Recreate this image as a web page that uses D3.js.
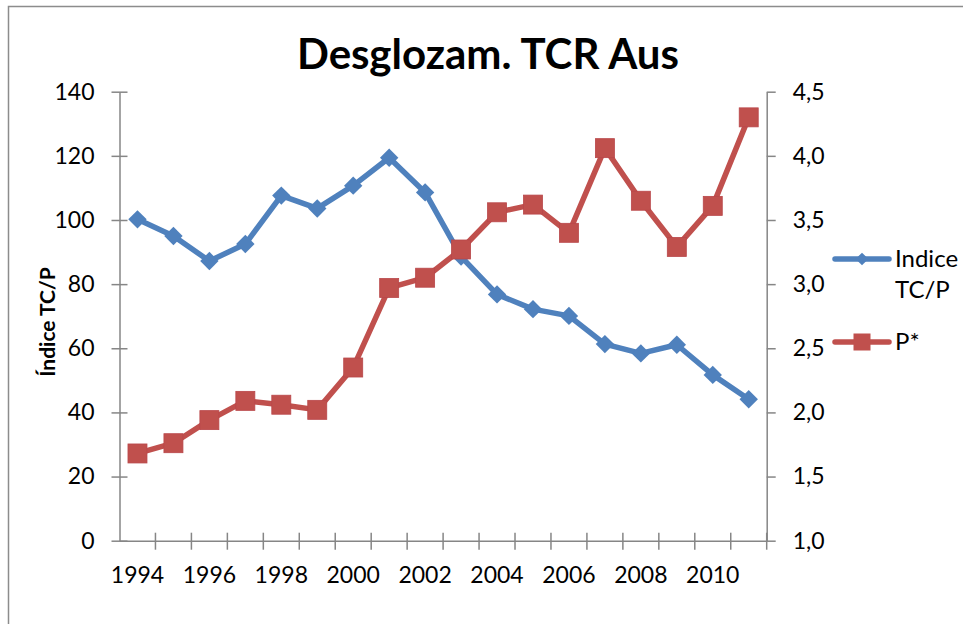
<!DOCTYPE html>
<html>
<head>
<meta charset="utf-8">
<script src="https://cdn.jsdelivr.net/npm/d3@7"></script>
<style>
  body { margin: 0; background: #fff; }
  text { font-family: Lato, "Open Sans", sans-serif; fill: #000; }
</style>
</head>
<body>
<svg id="chart" width="963" height="624"></svg>
<script>
// Data
const years = ["1994", "1995", "1996", "1997", "1998", "1999", "2000", "2001", "2002",
  "2003", "2004", "2005", "2006", "2007", "2008", "2009", "2010", "2011"];
const indice = [100.2, 95.0, 87.2, 92.5, 107.6, 103.6, 110.7, 119.4, 108.6,
  88.6, 76.8, 72.2, 70.1, 61.3, 58.4, 61.1, 51.7, 44.1];
const pStar = [1.68, 1.76, 1.94, 2.09, 2.06, 2.02, 2.35, 2.97, 3.05,
  3.27, 3.56, 3.62, 3.40, 4.06, 3.65, 3.29, 3.61, 4.30];
const leftTicks = [0, 20, 40, 60, 80, 100, 120, 140];
const rightTicks = [1.0, 1.5, 2.0, 2.5, 3.0, 3.5, 4.0, 4.5];
const xLabels = ["1994", "1996", "1998", "2000", "2002", "2004", "2006", "2008", "2010"];

const BLUE = "#4F81BD";
const RED = "#C0504D";
const GRAY = "#868686";

const svg = d3.select("#chart");

// Outer chart border
svg.append("rect")
  .attr("x", 8.5).attr("y", 6.5)
  .attr("width", 970).attr("height", 640)
  .attr("fill", "none").attr("stroke", "#8c8c8c").attr("stroke-width", 1.5);

// Plot area
const plotL = 119.5, plotR = 766.7, plotT = 91.7, plotB = 540.7;

// SCALES
const xScale = d3.scaleBand().domain(years).range([plotL, plotR]).padding(0);
const yLeft = d3.scaleLinear().domain([0, 140]).range([plotB, plotT]);
const yRight = d3.scaleLinear().domain([1, 4.5]).range([plotB, plotT]);
const xMid = (d) => xScale(d) + xScale.bandwidth() / 2;

const comma = (v) => d3.format(".1f")(v).replace(".", ",");

// Left axis
const gLeft = svg.append("g")
  .attr("transform", `translate(${plotL},0)`)
  .call(d3.axisLeft(yLeft).tickValues(leftTicks).tickSize(8).tickPadding(17).tickSizeOuter(0));
gLeft.selectAll(".tick line").attr("x1", 8).attr("x2", -8);

// Right axis
const gRight = svg.append("g")
  .attr("transform", `translate(${plotR},0)`)
  .call(d3.axisRight(yRight).tickValues(rightTicks).tickFormat(comma)
    .tickSize(9).tickPadding(17).tickSizeOuter(0));

// Bottom axis: labels at category centers, ticks between categories
const gBottom = svg.append("g")
  .attr("transform", `translate(0,${plotB})`)
  .call(d3.axisBottom(xScale).tickValues(xLabels).tickSize(0).tickPadding(0).tickSizeOuter(0));
gBottom.selectAll(".tick text").attr("y", 42).attr("dy", 0);

gBottom.selectAll(".cat-tick")
  .data(years.slice(1).concat(["end"]))
  .join("line")
  .attr("class", "cat-tick")
  .attr("x1", (d) => d === "end" ? plotR : xScale(d))
  .attr("x2", (d) => d === "end" ? plotR : xScale(d))
  .attr("y1", -8).attr("y2", 9);

[gLeft, gRight, gBottom].forEach((g) => {
  g.selectAll("path.domain").attr("stroke", GRAY).attr("stroke-width", 1.5);
  g.selectAll("line").attr("stroke", GRAY).attr("stroke-width", 1.5);
  g.selectAll("text").attr("font-size", 23).attr("font-family", "Lato, sans-serif").attr("fill", "#000");
});

// Titles
svg.append("text")
  .attr("x", 488).attr("y", 69)
  .attr("text-anchor", "middle")
  .attr("font-size", 42).attr("font-weight", "bold")
  .text("Desglozam. TCR Aus");

svg.append("text")
  .attr("transform", "translate(55,322) rotate(-90)")
  .attr("text-anchor", "middle")
  .attr("font-size", 21).attr("font-weight", "bold")
  .text("Índice TC/P");

// Lines
const lineL = d3.line().x((d, i) => xMid(years[i])).y((d) => yLeft(d));
const lineR = d3.line().x((d, i) => xMid(years[i])).y((d) => yRight(d));

svg.append("path")
  .datum(indice)
  .attr("d", lineL)
  .attr("fill", "none").attr("stroke", BLUE).attr("stroke-width", 5.5)
  .attr("stroke-linejoin", "round");

svg.selectAll(".mk-blue")
  .data(indice)
  .join("rect")
  .attr("class", "mk-blue")
  .attr("x", -6.5).attr("y", -6.5).attr("width", 13).attr("height", 13)
  .attr("transform", (d, i) => `translate(${xMid(years[i])},${yLeft(d)}) rotate(45)`)
  .attr("fill", BLUE);

svg.append("path")
  .datum(pStar)
  .attr("d", lineR)
  .attr("fill", "none").attr("stroke", RED).attr("stroke-width", 5.5)
  .attr("stroke-linejoin", "round");

svg.selectAll(".mk-red")
  .data(pStar)
  .join("rect")
  .attr("class", "mk-red")
  .attr("x", (d, i) => xMid(years[i]) - 9.5)
  .attr("y", (d) => yRight(d) - 9.5)
  .attr("width", 19).attr("height", 19)
  .attr("fill", RED).attr("stroke", "#b9474a").attr("stroke-width", 0.8);

// Legend
const legend = svg.append("g");
legend.append("line")
  .attr("x1", 835).attr("x2", 889).attr("y1", 259).attr("y2", 259)
  .attr("stroke", BLUE).attr("stroke-width", 5.5).attr("stroke-linecap", "round");
legend.append("rect")
  .attr("x", -4.5).attr("y", -4.5).attr("width", 9).attr("height", 9)
  .attr("transform", "translate(862,259) rotate(45)")
  .attr("fill", BLUE);
legend.append("text")
  .attr("x", 895).attr("y", 267).attr("font-size", 24)
  .text("Indice");
legend.append("text")
  .attr("x", 895).attr("y", 298).attr("font-size", 24)
  .text("TC/P");

legend.append("line")
  .attr("x1", 835).attr("x2", 889).attr("y1", 342).attr("y2", 342)
  .attr("stroke", RED).attr("stroke-width", 5.5).attr("stroke-linecap", "round");
legend.append("rect")
  .attr("x", 853.5).attr("y", 333.5).attr("width", 17).attr("height", 17)
  .attr("fill", RED);
legend.append("text")
  .attr("x", 895).attr("y", 350).attr("font-size", 24)
  .text("P*");
</script>
</body>
</html>
